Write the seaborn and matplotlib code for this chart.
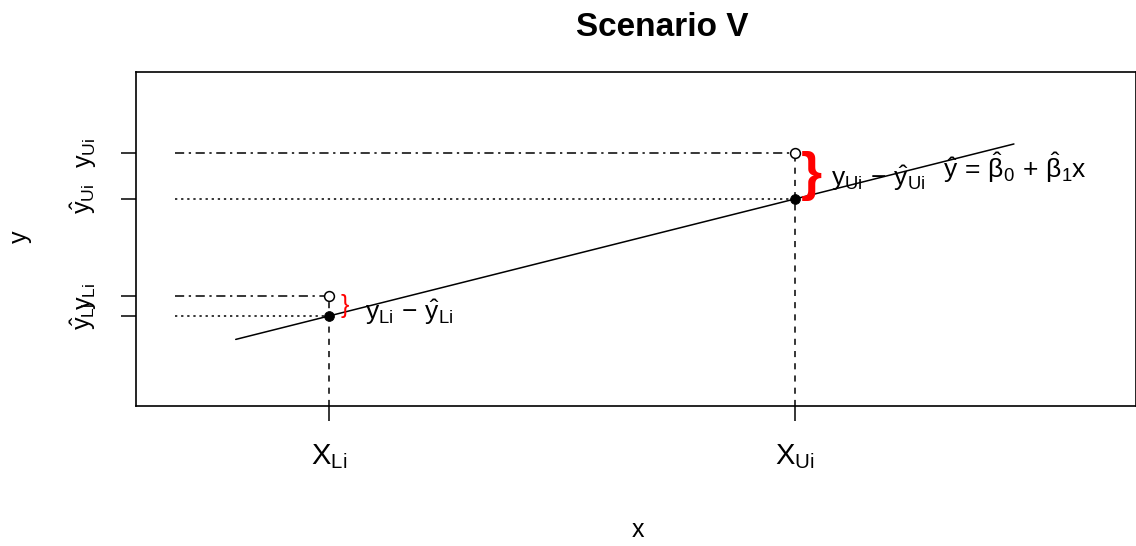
import numpy as np
import pandas as pd
import matplotlib
matplotlib.use("Agg")
import matplotlib.pyplot as plt
import seaborn as sns

# ---- data ----
x_pts = [1.0, 3.0]                      # X_Li, X_Ui
y_obs = [2.17, 3.39]                    # y_Li, y_Ui
y_hat = [2.0, 3.0]                      # yhat_Li, yhat_Ui
line_x = [0.6, 3.94]
line_y = [1.8, 3.47]
x_tick_labels = [r'$\mathregular{X_{Li}}$', r'$\mathregular{X_{Ui}}$']
y_tick_vals = [2.0, 2.17, 3.0, 3.39]
y_tick_labels = [r'$\hat{y}_{Li}$', r'$y_{Li}$', r'$\hat{y}_{Ui}$', r'$y_{Ui}$']

sns.set_style("white")
plt.rcParams['font.family'] = ['Liberation Sans', 'DejaVu Sans']
plt.rcParams['mathtext.fontset'] = 'custom'
plt.rcParams['mathtext.rm'] = 'Liberation Sans'
plt.rcParams['mathtext.it'] = 'Liberation Sans'
plt.rcParams['mathtext.bf'] = 'Liberation Sans:bold'

fig = plt.figure(figsize=(11.36, 5.46), dpi=100)
ax = fig.add_axes([136/1136, 1-406/546, 1000/1136, 334/546])

df_line = pd.DataFrame({'x': line_x, 'y': line_y})
sns.lineplot(data=df_line, x='x', y='y', ax=ax, color='black', lw=1.1)

xmin = 0.34
# reference lines
for xp, yo, yh in zip(x_pts, y_obs, y_hat):
    ax.plot([xmin, xp], [yo, yo], color='black', lw=1.1, linestyle=(0, (6, 3, 1.5, 3)))
    ax.plot([xmin, xp], [yh, yh], color='black', lw=1.1, linestyle=(0, (1.5, 2.5)))
    ax.plot([xp, xp], [1.231, yo], color='black', lw=1.1, linestyle=(0, (4, 4)))

df_obs = pd.DataFrame({'x': x_pts, 'y': y_obs})
df_hat = pd.DataFrame({'x': x_pts, 'y': y_hat})
sns.scatterplot(data=df_obs, x='x', y='y', ax=ax, s=50, facecolor='white',
                edgecolor='black', linewidth=1.1, zorder=5)
sns.scatterplot(data=df_hat, x='x', y='y', ax=ax, s=50, color='black',
                edgecolor='black', zorder=5)

# braces
ax.text(3.07, (y_obs[1] + y_hat[1]) / 2, '}', color='red', fontsize=39,
        ha='center', va='center', fontweight='bold')
ax.text(1.07, (y_obs[0] + y_hat[0]) / 2, '}', color='red', fontsize=18,
        ha='center', va='center')

ax.text(3.155, 3.18, r'$y_{Ui}\,-\,\hat{y}_{Ui}$', fontsize=19, ha='left', va='center', color='black')
ax.text(1.155, 2.03, r'$y_{Li}\,-\,\hat{y}_{Li}$', fontsize=19, ha='left', va='center', color='black')
ax.text(3.635, 3.265, r'$\hat{y}\,=\,\hat{\beta}_0\,+\,\hat{\beta}_1 x$', fontsize=19,
        ha='left', va='center', color='black')

ax.set_xlim(0.172, 4.464)
ax.set_ylim(1.231, 4.085)
ax.set_xticks(x_pts)
ax.set_xticklabels(x_tick_labels, fontsize=21)
ax.set_yticks(y_tick_vals)
ax.set_yticklabels(y_tick_labels, fontsize=18, rotation=90, va='center')
ax.tick_params(axis='both', direction='out', length=11, width=1.1, color='black',
               left=True, bottom=True, labelcolor='black')
ax.tick_params(axis='x', pad=15)
ax.tick_params(axis='y', pad=16)
for s in ax.spines.values():
    s.set_visible(True)
    s.set_color('black')
    s.set_linewidth(1.2)
ax.set_xlabel('')
ax.set_ylabel('')

fig.text(662/1136, 1-27/546, 'Scenario V', fontsize=24, fontweight='bold',
         ha='center', va='center', color='black')
fig.text(638/1136, 1-530/546, 'x', fontsize=18, ha='center', va='center', color='black')
fig.text(20/1136, 1-237/546, 'y', fontsize=18, ha='center', va='center', rotation=90, color='black')

fig.savefig('out.png', dpi=100)
